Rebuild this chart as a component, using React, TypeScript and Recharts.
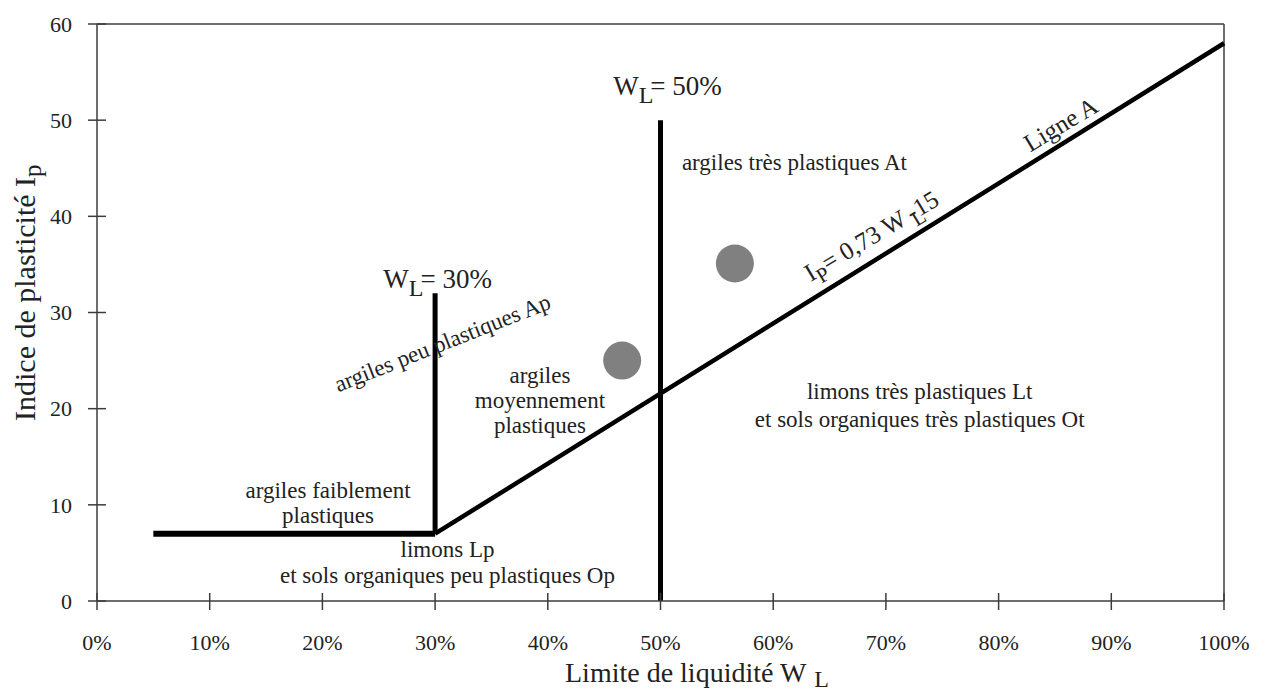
import React from 'react';
import {
  ScatterChart, Scatter, XAxis, YAxis, ReferenceLine, ReferenceDot, Label,
} from 'recharts';

// axes
const wlTicks = [0, 10, 20, 30, 40, 50, 60, 70, 80, 90, 100];
const ipTicks = [0, 10, 20, 30, 40, 50, 60];

// boundaries of the Casagrande chart (WL %, Ip)
const lineLow = [{ x: 5, y: 7 }, { x: 30, y: 7 }];
const line30 = [{ x: 30, y: 7 }, { x: 30, y: 32 }];
const line50 = [{ x: 50, y: 0 }, { x: 50, y: 50 }];
const ligneA = [{ x: 30, y: 7 }, { x: 100, y: 58 }];

// measured samples
const samples = [{ wl: 46.6, ip: 25 }, { wl: 56.6, ip: 35.1 }];

// zone notes (anchor in data units)
const noteAt = { x: 51.9, y: 44.8, lines: ['argiles très plastiques At'] };
const noteLt = { x: 73.0, y: 21.0, lines: ['limons très plastiques Lt', 'et sols organiques très plastiques Ot'] };
const noteAm = { x: 39.3, y: 22.7, lines: ['argiles', 'moyennement', 'plastiques'] };
const noteAf = { x: 20.5, y: 10.7, lines: ['argiles faiblement', 'plastiques'] };
const noteLp = { x: 31.1, y: 4.6, lines: ['limons Lp', 'et sols organiques peu plastiques Op'] };
const noteAp = { x: 30.9, y: 26.1, lines: ['argiles peu plastiques Ap'] };
const noteEq = { x: 68.7, y: 38.0 };
const noteLigne = { x: 85.5, y: 49.6, text: 'Ligne A' };
const noteWl30 = { x: 25.4, y: 32.5, value: '30%' };
const noteWl50 = { x: 45.8, y: 52.6, value: '50%' };

const FONT = 'Liberation Serif, Times New Roman, serif';
const INK = '#222';
const AXIS = '#3c3c3c';
const txt = { fontFamily: FONT };

const center = (vb: any) => ({ cx: vb.x + vb.width / 2, cy: vb.y + vb.height / 2 });

const multiLine = (lines: string[], anchor: 'start' | 'middle', gap: number, angle = 0) => (props: any) => {
  const { cx, cy } = center(props.viewBox);
  return (
    <text
      x={cx} y={cy} textAnchor={anchor} style={txt} fontSize={23} fill={INK}
      transform={angle ? `rotate(${angle}, ${cx}, ${cy})` : undefined}
      dy={angle ? '0.35em' : undefined}
    >
      {lines.map((l, i) => (
        <tspan key={i} x={cx} dy={i === 0 ? 0 : gap}>{l}</tspan>
      ))}
    </text>
  );
};

const wlLabel = (value: string) => (props: any) => {
  const { cx, cy } = center(props.viewBox);
  return (
    <text x={cx} y={cy} style={txt} fontSize={27} fill={INK}>
      W<tspan dy={8} fontSize={24}>L</tspan><tspan dy={-8} dx={-3}>= {value}</tspan>
    </text>
  );
};

const eqLabel = (props: any) => {
  const { cx, cy } = center(props.viewBox);
  return (
    <text
      x={cx} y={cy} textAnchor="middle" dy="0.35em" style={txt} fontSize={25} fill={INK}
      transform={`rotate(-31, ${cx}, ${cy})`}
    >
      I<tspan dy={7} fontSize={21}>P</tspan><tspan dy={-7}>= 0,73 W </tspan>
      <tspan dy={7} fontSize={21}>L</tspan><tspan dy={-7} dx={-14}>-15</tspan>
    </text>
  );
};

const ligneLabel = (props: any) => {
  const { cx, cy } = center(props.viewBox);
  return (
    <text
      x={cx} y={cy} textAnchor="middle" dy="0.35em" style={txt} fontSize={25} fill={INK}
      transform={`rotate(-31, ${cx}, ${cy})`}
    >
      {noteLigne.text}
    </text>
  );
};

const XTick = ({ x, y, payload }: any) => (
  <g>
    <line x1={x} x2={x} y1={y - 8} y2={y + 9} stroke={AXIS} strokeWidth={1.5} />
    <text x={x} y={y + 49} textAnchor="middle" style={txt} fontSize={22} fill={INK}>
      {payload.value}%
    </text>
  </g>
);

const YTick = ({ x, y, payload }: any) => (
  <g>
    <line x1={x - 9} x2={x + 9} y1={y} y2={y} stroke={AXIS} strokeWidth={1.5} />
    <text x={x - 25} y={y} dy="0.35em" textAnchor="end" style={txt} fontSize={22} fill={INK}>
      {payload.value}
    </text>
  </g>
);

const XTitle = (props: any) => {
  const vb = props.viewBox;
  const x = vb.x + 468;
  const y = vb.y + 81;
  return (
    <text x={x} y={y} style={txt} fontSize={28} fill={INK}>
      Limite de liquidité W<tspan dx={8} dy={5} fontSize={24}>L</tspan>
    </text>
  );
};

const YTitle = (props: any) => {
  const vb = props.viewBox;
  const x = vb.x - 2;
  const y = vb.y + vb.height - 180;
  return (
    <text
      x={x} y={y} style={txt} fontSize={30} fill={INK}
      transform={`rotate(-90, ${x}, ${y})`}
    >
      Indice de plasticité I<tspan dy={6} fontSize={25}>p</tspan>
    </text>
  );
};

const Sample = (p: any) => <circle cx={p.cx} cy={p.cy} r={19} fill="#808080" />;

const App: React.FC = () => (
  <div style={{ position: 'absolute', left: 0, top: 0, background: '#fff' }}>
    <ScatterChart width={1265} height={693} margin={{ top: 24, right: 41, left: 37, bottom: 32 }}>
      <XAxis
        type="number" dataKey="wl" domain={[0, 100]} ticks={wlTicks} interval={0}
        stroke={AXIS} strokeWidth={1.5} tickLine={false} tickSize={0} tickMargin={0}
        tick={<XTick />} height={60}
      >
        <Label content={XTitle} />
      </XAxis>
      <YAxis
        type="number" dataKey="ip" domain={[0, 60]} ticks={ipTicks} interval={0}
        stroke={AXIS} strokeWidth={1.5} tickLine={false} tickSize={0} tickMargin={0}
        tick={<YTick />} width={60}
      >
        <Label content={YTitle} />
      </YAxis>

      {/* frame */}
      <ReferenceLine y={60} stroke={AXIS} strokeWidth={1.5} ifOverflow="visible" />
      <ReferenceLine x={100} stroke={AXIS} strokeWidth={1.5} ifOverflow="visible" />

      <ReferenceLine segment={lineLow} stroke="#000" strokeWidth={6} ifOverflow="visible" />
      <ReferenceLine segment={line30} stroke="#000" strokeWidth={5} ifOverflow="visible" />
      <ReferenceLine segment={line50} stroke="#000" strokeWidth={5} ifOverflow="visible" />
      <ReferenceLine segment={ligneA} stroke="#000" strokeWidth={4.5} ifOverflow="visible" />

      <Scatter data={samples} shape={Sample} isAnimationActive={false} />

      <ReferenceDot x={noteAt.x} y={noteAt.y} r={0} stroke="none" fill="none" label={multiLine(noteAt.lines, 'start', 0)} />
      <ReferenceDot x={noteLt.x} y={noteLt.y} r={0} stroke="none" fill="none" label={multiLine(noteLt.lines, 'middle', 28)} />
      <ReferenceDot x={noteAm.x} y={noteAm.y} r={0} stroke="none" fill="none" label={multiLine(noteAm.lines, 'middle', 25)} />
      <ReferenceDot x={noteAf.x} y={noteAf.y} r={0} stroke="none" fill="none" label={multiLine(noteAf.lines, 'middle', 25)} />
      <ReferenceDot x={noteLp.x} y={noteLp.y} r={0} stroke="none" fill="none" label={multiLine(noteLp.lines, 'middle', 26)} />
      <ReferenceDot x={noteAp.x} y={noteAp.y} r={0} stroke="none" fill="none" label={multiLine(noteAp.lines, 'middle', 0, -21.5)} />
      <ReferenceDot x={noteEq.x} y={noteEq.y} r={0} stroke="none" fill="none" label={eqLabel} />
      <ReferenceDot x={noteLigne.x} y={noteLigne.y} r={0} stroke="none" fill="none" label={ligneLabel} />
      <ReferenceDot x={noteWl30.x} y={noteWl30.y} r={0} stroke="none" fill="none" label={wlLabel(noteWl30.value)} />
      <ReferenceDot x={noteWl50.x} y={noteWl50.y} r={0} stroke="none" fill="none" label={wlLabel(noteWl50.value)} />
    </ScatterChart>
  </div>
);

export default App;
